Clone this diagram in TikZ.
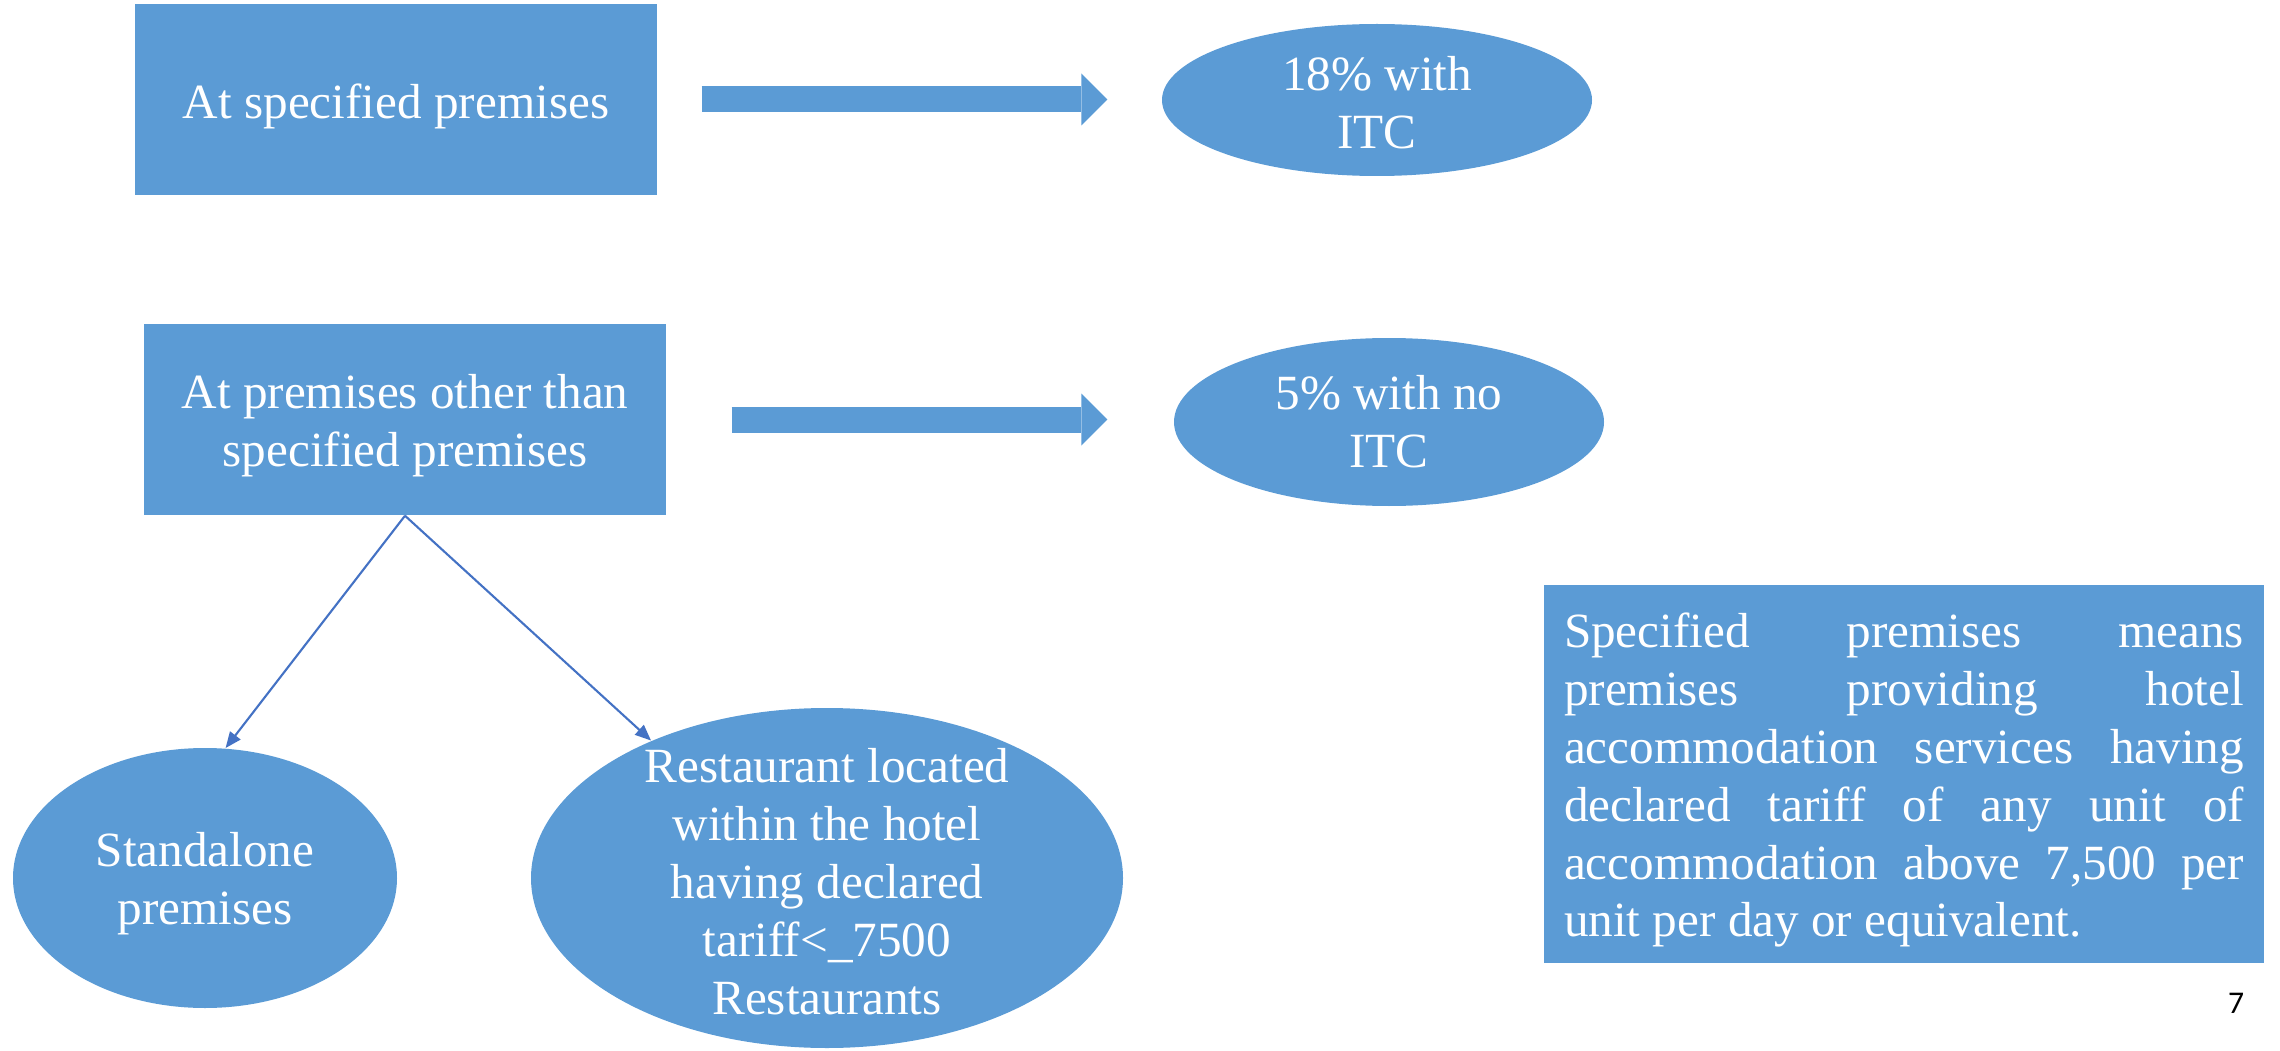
\documentclass[tikz,border=0pt]{standalone}
\usepackage{fontspec}
\setmainfont{Liberation Serif}
\newfontfamily\pgnumfont{Carlito}
\usetikzlibrary{arrows.meta,shapes.geometric}
\definecolor{boxblue}{HTML}{5B9BD5}
\definecolor{linkblue}{HTML}{4472C4}
\begin{document}
\begin{tikzpicture}[
  box/.style={rectangle, fill=boxblue, inner sep=0pt},
  ell/.style={ellipse, fill=boxblue, inner sep=0pt},
  etxt/.style={text=white, align=center, inner sep=0pt},
  bigarrow/.style={draw=boxblue, line width=0.26cm, -{Triangle[length=0.26cm, width=0.52cm, line width=0pt]}},
  link/.style={draw=linkblue, line width=0.6pt, -{Triangle[length=0.16cm, width=0.13cm]}},
  font=\fontsize{14}{16.5}\selectfont]
\useasboundingbox (0,0) rectangle (22.8,-10.51);
% left boxes
\node[box, minimum width=5.22cm, minimum height=1.91cm] (b1) at (3.96,-0.995) {};
\node[etxt] (b1t) at ([yshift=-0.07cm]b1.center) {At specified premises};
\node[box, minimum width=5.22cm, minimum height=1.91cm] (b2) at (4.05,-4.195) {};
\node[etxt] (b2t) at ([yshift=-0.06cm]b2.center) {At premises other than\\specified premises};
% rates
\node[ell, minimum width=4.30cm, minimum height=1.52cm] (e1) at (13.77,-1.00) {};
\node[etxt] (t1) at ([yshift=-0.03cm]e1.center) {18\% with\\ITC};
\node[ell, minimum width=4.30cm, minimum height=1.68cm] (e2) at (13.89,-4.22) {};
\node[etxt] (t2) at (e2) {5\% with no\\ITC};
% kinds of premises
\node[ell, minimum width=3.84cm, minimum height=2.60cm] (e3) at (2.05,-8.78) {};
\node[etxt] (t3) at ([yshift=-0.06cm]e3.center) {Standalone\\premises};
\node[ell, minimum width=5.92cm, minimum height=3.40cm] (e4) at (8.27,-8.78) {};
\node[etxt] (t4) at ([yshift=-0.04cm]e4.center) {Restaurant located\\within the hotel\\having declared\\tariff<\_7500\\Restaurants};
\draw[bigarrow, shorten <=0.44cm, shorten >=0.54cm] (b1.east) -- (b1.east -| e1.west);
\draw[bigarrow, shorten <=0.65cm, shorten >=0.66cm] (b2.east) -- (b2.east -| e2.west);
\draw[link] (b2.south) -- (e3.81);
\draw[link] (b2.south) -- (e4.142);
% note
\node[box, minimum width=7.20cm, minimum height=3.78cm] (note) at (19.04,-7.74) {};
\node[etxt, text width=6.80cm, align=justify] (notet) at ([yshift=-0.06cm]note.center) {\makebox[6.8cm][s]{Specified premises means}\\
\makebox[6.8cm][s]{premises providing hotel}\\
\makebox[6.8cm][s]{accommodation services having}\\
\makebox[6.8cm][s]{declared tariff of any unit of}\\
\makebox[6.8cm][s]{accommodation above 7,500 per}\\
unit per day or equivalent.};
\node[font=\pgnumfont\fontsize{9}{10}\selectfont, inner sep=0pt] (pg) at (22.36,-10.03) {7};
\end{tikzpicture}
\end{document}
